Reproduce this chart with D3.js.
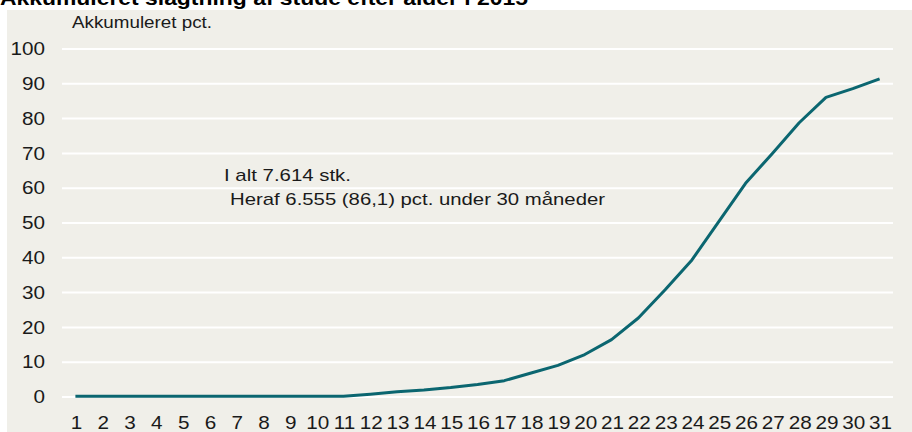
<!DOCTYPE html>
<html>
<head>
<meta charset="utf-8">
<script src="https://cdn.jsdelivr.net/npm/d3@7"></script>
<style>
  body { margin: 0; background: #ffffff; }
  svg { display: block; font-family: "Liberation Sans", Arial, sans-serif; }
  .chart__bg { fill: #f0efe9; }
  .chart__grid line { stroke: #ffffff; stroke-width: 2; }
  .chart__axis text { fill: #1a1a1a; font-size: 18px; }
  .chart__line { fill: none; stroke: #0b6670; stroke-width: 3; stroke-linejoin: round; }
  .chart__note { fill: #1a1a1a; font-size: 17px; }
</style>
</head>
<body>
<svg id="chart" width="912" height="432"></svg>
<script>
// data: accumulated share (pct.) slaughtered by age in months
var months = d3.range(1, 32).map(String)
var accumulated = [
  0.2, 0.2, 0.2, 0.2, 0.2, 0.2, 0.2, 0.2, 0.2, 0.2, 0.2,
  0.8, 1.5, 2.0, 2.7, 3.6, 4.7, 6.9, 9.1, 12.2, 16.5,
  22.7, 30.8, 39.4, 50.4, 61.4, 70.0, 78.8, 86.1, 88.6, 91.4
]
var yTicks = [0, 10, 20, 30, 40, 50, 60, 70, 80, 90, 100]
var title = "Akkumuleret slagtning af stude efter alder i 2015"
var yLabel = "Akkumuleret pct."
var noteLine1 = "I alt 7.614 stk."
var noteLine2 = "Heraf 6.555 (86,1) pct. under 30 måneder"

var svg = d3.select("#chart")
var W = 912, H = 432
var margin = { top: 49, right: 19, bottom: 35, left: 62 }
var width = W - margin.left - margin.right
var height = H - margin.top - margin.bottom
var stretch = 1.15 // source text is drawn wider than Arial

// panel + title (title is clipped by the top edge, as in the source)
svg.append("rect").attr("class", "chart__bg")
  .attr("x", 7).attr("y", 10).attr("width", W - 7).attr("height", H - 10)
svg.append("text")
  .attr("x", 0).attr("y", 5)
  .attr("font-weight", "bold").attr("font-size", 20)
  .attr("textLength", 528).attr("lengthAdjust", "spacingAndGlyphs")
  .text(title)

var g = svg.append("g").attr("transform", "translate(" + margin.left + "," + margin.top + ")")

var x = d3.scaleBand().domain(months).range([0, width]).padding(0)
var y = d3.scaleLinear().domain([0, 100]).range([height, 0])

// gridlines
g.append("g").attr("class", "chart__grid")
  .selectAll("line").data(yTicks).enter().append("line")
  .attr("x1", 0).attr("x2", width)
  .attr("y1", function (d) { return y(d) })
  .attr("y2", function (d) { return y(d) })

var yAxis = d3.axisLeft(y).tickValues(yTicks).tickSize(0)
g.append("g").attr("class", "chart__axis chart__axis--y").call(yAxis)
  .call(function (s) { s.select(".domain").remove() })
  .selectAll("text")
  .attr("x", -17 / stretch)
  .attr("transform", "scale(" + stretch + ",1)")

var xAxis = d3.axisBottom(x).tickSize(0).tickPadding(19)
g.append("g").attr("class", "chart__axis chart__axis--x")
  .attr("transform", "translate(0," + height + ")")
  .call(xAxis)
  .call(function (s) { s.select(".domain").remove() })
  .selectAll("text")
  .attr("x", 1 / stretch)
  .attr("transform", "scale(" + stretch + ",1)")

svg.selectAll(".chart__axis").attr("font-family", null).attr("font-size", null)

var line = d3.line()
  .x(function (d, i) { return x(months[i]) + x.bandwidth() / 2 })
  .y(function (d) { return y(d) })

g.append("path").datum(accumulated).attr("class", "chart__line").attr("d", line)

// axis title
svg.append("text").attr("class", "chart__note")
  .attr("x", 72).attr("y", 28).attr("font-size", 16)
  .attr("textLength", 140).attr("lengthAdjust", "spacingAndGlyphs")
  .text(yLabel)

// annotation
svg.append("text").attr("class", "chart__note")
  .attr("x", 224).attr("y", 181)
  .attr("textLength", 127).attr("lengthAdjust", "spacingAndGlyphs")
  .text(noteLine1)
svg.append("text").attr("class", "chart__note")
  .attr("x", 230).attr("y", 205)
  .attr("textLength", 375).attr("lengthAdjust", "spacingAndGlyphs")
  .text(noteLine2)
</script>
</body>
</html>
